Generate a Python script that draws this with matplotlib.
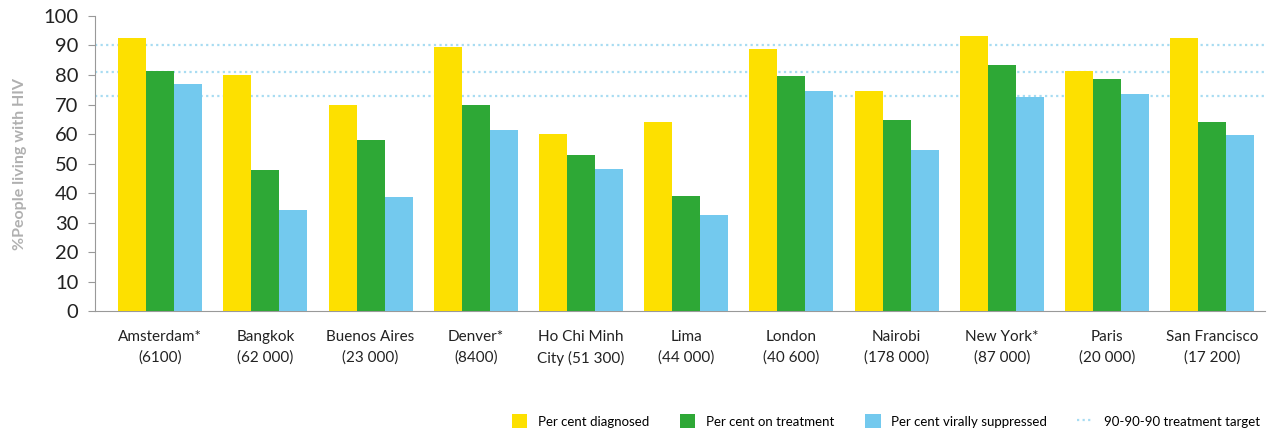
import matplotlib.pyplot as plt
import numpy as np

plt.rcParams['font.family'] = ['Lato', 'DejaVu Sans']

# data
cities = ["Amsterdam*\n(6100)", "Bangkok\n(62 000)", "Buenos Aires\n(23 000)", "Denver*\n(8400)",
          "Ho Chi Minh\nCity (51 300)", "Lima\n(44 000)", "London\n(40 600)", "Nairobi\n(178 000)",
          "New York*\n(87 000)", "Paris\n(20 000)", "San Francisco\n(17 200)"]
diagnosed = [92.5, 80, 70, 89.5, 60, 64, 88.8, 74.5, 93.2, 81.4, 92.5]
on_treatment = [81.4, 47.8, 58, 70, 52.8, 39, 79.5, 64.8, 83.4, 78.8, 64]
suppressed = [77, 34.3, 38.6, 61.4, 48, 32.4, 74.6, 54.6, 72.4, 73.6, 59.6]
targets = [90, 81, 72.9]

yellow = "#FDE000"
green = "#2EA836"
blue = "#73C9EE"

fig = plt.figure(figsize=(12.73, 4.32), dpi=100)
ax = fig.add_axes([0.0746, 0.280, 0.919, 0.683])

x = np.arange(len(cities))
w = 0.266
ax.bar(x - w, diagnosed, w, color=yellow, label="Per cent diagnosed", zorder=3)
ax.bar(x, on_treatment, w, color=green, label="Per cent on treatment", zorder=3)
ax.bar(x + w, suppressed, w, color=blue, label="Per cent virally suppressed", zorder=3)
for i, t in enumerate(targets):
    ax.axhline(t, color="#a8dcf2", linestyle=(0, (1, 1.5)), linewidth=1.6, zorder=1,
               label="90-90-90 treatment target" if i == 0 else None)

ax.set_xlim(-0.62, 10.5)
ax.set_ylim(0, 100)
ax.set_yticks(range(0, 101, 10))
ax.set_xticks(x)
ax.set_xticklabels(cities, fontsize=11, color="#222222", linespacing=1.55)
ax.tick_params(axis="y", labelsize=14.5, length=5, color="#999999", pad=7, labelcolor="#222222")
ax.tick_params(axis="x", length=0, pad=14)
for s in ["top", "right"]:
    ax.spines[s].set_visible(False)
ax.spines["left"].set_color("#999999")
ax.spines["bottom"].set_color("#999999")
ax.set_ylabel("%People living with HIV", fontsize=11.5, color="#b0b0b0", fontweight="bold", labelpad=12)

# legend: bars first, target line last
h, l = ax.get_legend_handles_labels()
order = [1, 2, 3, 0]
fig.legend([h[i] for i in order], [l[i] for i in order], loc="center right",
           bbox_to_anchor=(0.999, 0.025), ncol=4, frameon=False, fontsize=9.5,
           handlelength=1.2, handleheight=1.2, columnspacing=2.3, handletextpad=0.8)

fig.savefig("out.png", dpi=100)
